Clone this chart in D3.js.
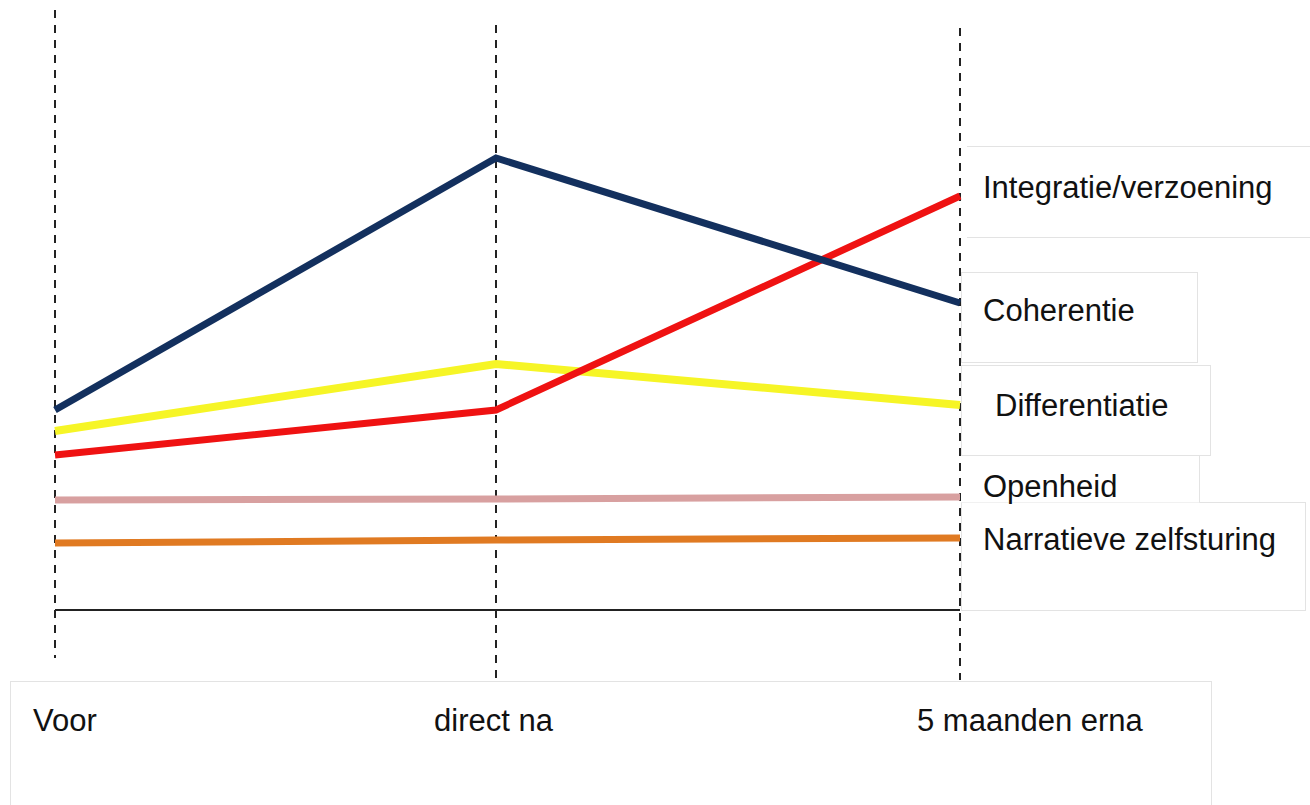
<!DOCTYPE html>
<html>
<head>
<meta charset="utf-8">
<script src="https://cdn.jsdelivr.net/npm/d3@7"></script>
<style>
  html, body { margin: 0; padding: 0; background: #fff; }
  svg { display: block; }
  text { font-family: "Liberation Sans", Arial, sans-serif; fill: #111; }
</style>
</head>
<body>
<svg id="chart" width="1310" height="805"></svg>
<script>
// ---- data ----
const categories = ["Voor", "direct na", "5 maanden erna"];
const seriesNames = ["Integratie/verzoening", "Coherentie", "Differentiatie", "Openheid", "Narratieve zelfsturing"];
const integratie   = [1.55, 2.00, 4.14];
const coherentie   = [2.00, 4.52, 3.07];
const differentiatie = [1.79, 2.46, 2.05];
const openheid     = [1.10, 1.11, 1.13];
const narratieve   = [0.67, 0.70, 0.72];
const seriesColors = ["#ef1212", "#13305e", "#f6f526", "#d8a0a0", "#e07a22"];

const seriesValues = [integratie, coherentie, differentiatie, openheid, narratieve];

// ---- layout ----
const svg = d3.select("#chart");
const x = d3.scaleOrdinal().domain(categories).range([55, 496, 960]);
const y = d3.scaleLinear().domain([0, 6]).range([610, 10]);

// label boxes (light gray)
const boxStroke = "#e3e3e3";
const gBoxes = svg.append("g");
// bottom category box
gBoxes.append("rect").attr("x", 10.5).attr("y", 681.5).attr("width", 1201).attr("height", 140)
  .attr("fill", "#fff").attr("stroke", boxStroke);
// Narratieve box
gBoxes.append("rect").attr("x", 961.5).attr("y", 502.5).attr("width", 344).attr("height", 108)
  .attr("fill", "#fff").attr("stroke", boxStroke);
// Openheid box (covers part of the box beneath)
gBoxes.append("rect").attr("x", 961.5).attr("y", 455.5).attr("width", 238).attr("height", 47)
  .attr("fill", "#fff").attr("stroke", "none");
gBoxes.append("path").attr("d", "M1199.5,455.5V502.5").attr("stroke", boxStroke).attr("fill", "none");
// Differentiatie box
gBoxes.append("rect").attr("x", 961.5).attr("y", 365.5).attr("width", 249).attr("height", 90)
  .attr("fill", "#fff").attr("stroke", boxStroke);
// Coherentie box
gBoxes.append("rect").attr("x", 961.5).attr("y", 272.5).attr("width", 236).attr("height", 90)
  .attr("fill", "#fff").attr("stroke", boxStroke);
// Integratie box (top and bottom edges only visible)
gBoxes.append("path").attr("d", "M967,146.5H1310M967,237.5H1310")
  .attr("stroke", boxStroke).attr("fill", "none");

// dashed verticals
const dashExtent = { "Voor": [10, 658], "direct na": [25, 680], "5 maanden erna": [28, 680] };
svg.append("g").selectAll("line").data(categories).join("line")
  .attr("x1", d => x(d)).attr("x2", d => x(d))
  .attr("y1", d => dashExtent[d][0]).attr("y2", d => dashExtent[d][1])
  .attr("stroke", "#222").attr("stroke-width", 2).attr("stroke-dasharray", "8,7");

// baseline axis
svg.append("line").attr("x1", x(categories[0])).attr("x2", x(categories[2]))
  .attr("y1", y(0)).attr("y2", y(0)).attr("stroke", "#222").attr("stroke-width", 2);

// series lines
const line = d3.line().x((d, i) => x(categories[i])).y(d => y(d));
const drawOrder = [3, 4, 2, 0, 1];
svg.append("g").selectAll("path").data(drawOrder).join("path")
  .attr("d", i => line(seriesValues[i]))
  .attr("fill", "none")
  .attr("stroke", i => seriesColors[i])
  .attr("stroke-width", i => (i === 2 ? 8 : 7))
  .attr("stroke-linejoin", "miter");

// series labels
const labelPos = [
  { dx: 23, y: 198 },
  { dx: 23, y: 321 },
  { dx: 35, y: 416 },
  { dx: 23, y: 497 },
  { dx: 23, y: 550 }
];
svg.append("g").selectAll("text").data(seriesNames).join("text")
  .attr("x", (d, i) => x(categories[2]) + labelPos[i].dx)
  .attr("y", (d, i) => labelPos[i].y)
  .attr("font-size", 31)
  .text(d => d);

// category labels
const catLabelX = { "Voor": 33, "direct na": 434, "5 maanden erna": 917 };
svg.append("g").selectAll("text").data(categories).join("text")
  .attr("x", d => catLabelX[d])
  .attr("y", 731)
  .attr("font-size", 31)
  .text(d => d);
</script>
</body>
</html>
